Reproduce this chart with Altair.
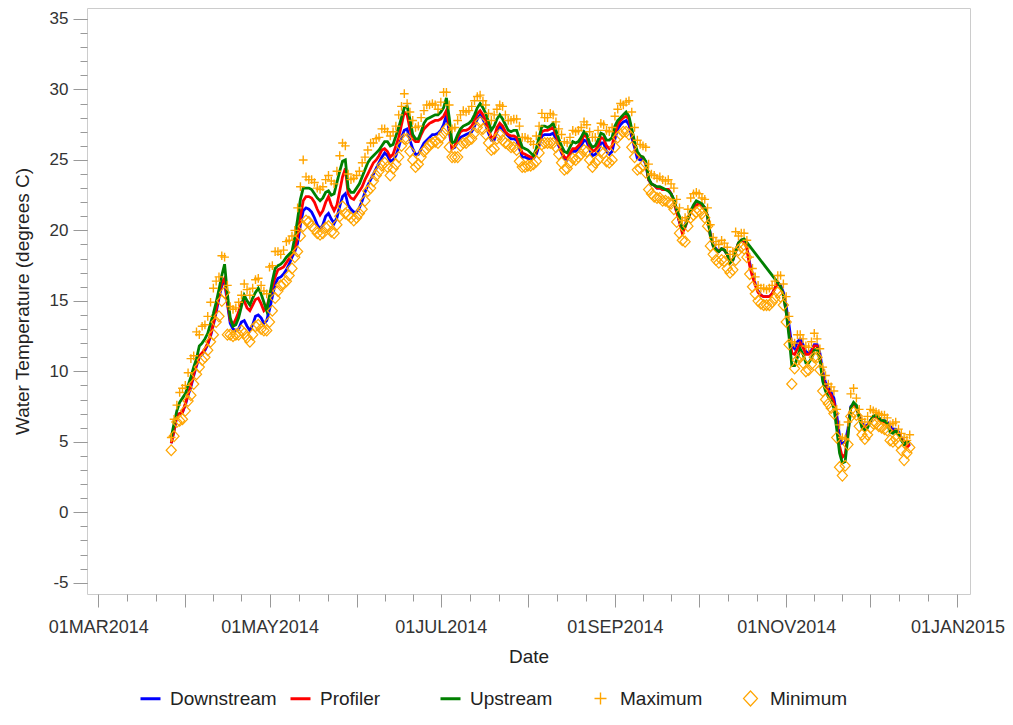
import altair as alt
import pandas as pd

START_DATE = "2014-03-27"

UPSTREAM = [
    5.3, 6.3, 7.2, 7.8, 8.1, 8.4, 9.0, 9.6, 10.3, 10.9,
    11.8, 12.0, 12.3, 12.7, 13.4, 14.1, 14.9, 15.8, 16.8, 17.6,
    15.5, 13.8, 13.2, 13.3, 13.8, 14.6, 15.4, 15.0, 14.7, 15.2,
    15.6, 15.9, 15.5, 14.9, 14.3, 15.3, 16.4, 17.3, 17.5, 17.6,
    17.8, 18.1, 18.3, 18.5, 19.5, 20.8, 22.2, 23.0, 23.0, 23.0,
    22.9, 22.6, 22.3, 22.1, 22.3, 22.7, 22.8, 22.5, 22.6, 23.4,
    24.2, 24.9, 25.0, 23.0, 22.7, 22.7, 23.0, 23.3, 23.8, 24.3,
    24.8, 25.1, 25.3, 25.5, 25.7, 26.0, 26.3, 26.3, 26.0, 26.1,
    26.7, 27.3, 28.0, 28.7, 28.8, 27.9, 26.8, 26.5, 26.5, 27.0,
    27.6, 27.9, 28.0, 28.1, 28.2, 28.2, 28.4, 28.7, 29.4, 28.0,
    26.2, 26.3, 26.8, 27.2, 27.4, 27.5, 27.6, 27.8, 28.2, 28.7,
    29.0, 28.7, 28.3, 27.7, 27.1, 27.4, 27.9, 28.2, 27.9, 27.5,
    27.1, 27.0, 27.1, 27.1, 26.5, 25.9, 25.8, 25.7, 25.5, 25.3,
    25.8, 26.6, 27.4, 27.4, 27.3, 27.4, 27.6, 27.1, 26.5, 26.0,
    25.6, 25.5, 25.9, 26.3, 26.2, 26.3, 26.6, 27.0, 26.8, 26.2,
    25.9, 26.0, 26.4, 26.9, 26.8, 26.4, 26.4, 26.6, 27.4, 27.8,
    28.0, 28.2, 28.4, 28.1, 27.2, 26.3, 25.6, 25.3, 25.2, 24.9,
    23.7, 23.3, 23.2, 23.1, 23.1, 23.0, 22.9, 22.8, 22.6, 22.2,
    21.5, 21.0, 20.1, 20.3, 20.8, 21.4, 21.8, 22.1, 22.0, 21.9,
    21.6, 21.0, 19.6, 18.9, 18.6, 18.5, 18.7, 18.6, 18.3, 17.7,
    17.9, 18.5, 19.1, 19.3, 19.4, None, None, None, None, None,
    None, None, None, None, None, None, 16.3, 16.0, 15.4, 14.2,
    12.5, 10.4, 10.4, 11.0, 11.6, 11.2, 10.6, 10.6, 10.9, 11.5,
    11.6, 10.8, 9.3, 8.6, 8.2, 7.9, 7.4, 5.9, 4.2, 3.5,
    3.6, 5.4, 7.4, 7.8, 7.6, 6.7, 6.0, 5.8, 6.0, 6.5,
    6.8, 6.9, 6.7, 6.5, 6.5, 6.3, 5.7, 5.6, 5.8, 5.5,
    5.1, 4.8, 5.0, 5.0,
]

PROFILER = [
    4.9, 5.8, 6.9, 7.0, 7.1, 7.7, 8.4, 9.0, 9.8, 10.5,
    11.1, 11.3, 11.6, 12.0, 12.6, 13.4, 14.4, 15.4, 16.3, 16.6,
    15.0, 13.6, 13.3, 13.7, 14.2, 14.9, 15.0, 14.5, 14.3, 14.7,
    15.1, 15.2, 14.8, 14.3, 14.5, 15.3, 16.0, 16.7, 17.2, 17.3,
    17.4, 17.7, 18.0, 18.3, 18.7, 19.6, 21.0, 22.1, 22.4, 22.4,
    22.3, 22.0, 21.5, 21.1, 21.4, 22.0, 22.4, 21.8, 21.4, 21.8,
    22.8, 23.8, 24.4, 22.6, 22.3, 22.2, 22.5, 22.8, 23.1, 23.6,
    24.0, 24.4, 24.8, 25.0, 25.3, 25.7, 25.8, 25.6, 25.2, 25.4,
    26.0, 26.6, 27.5, 28.4, 28.2, 27.2, 26.5, 26.3, 26.3, 26.8,
    27.2, 27.4, 27.6, 27.7, 27.8, 27.8, 27.9, 28.1, 28.5, 27.4,
    25.8, 26.0, 26.6, 27.0, 27.1, 27.1, 27.2, 27.4, 27.8, 28.3,
    28.5, 28.2, 27.8, 27.1, 26.6, 26.6, 27.3, 27.6, 27.4, 27.0,
    26.8, 26.7, 26.7, 26.6, 26.0, 25.5, 25.4, 25.3, 25.2, 25.2,
    25.6, 26.3, 27.0, 27.1, 27.1, 27.2, 27.3, 26.8, 26.2, 25.6,
    25.2, 25.1, 25.5, 25.8, 25.8, 26.0, 26.3, 26.8, 26.6, 26.0,
    25.6, 25.7, 26.0, 26.6, 26.5, 26.0, 25.8, 26.0, 26.9, 27.5,
    27.8, 28.0, 28.1, 27.9, 27.0, 26.1, 25.4, 25.2, 25.2, 24.8,
    23.6, 23.3, 23.2, 23.0, 23.0, 22.9, 22.9, 22.9, 22.6, 22.1,
    21.3, 20.6, 19.8, 20.2, 20.8, 21.3, 21.6, 21.8, 21.9, 21.8,
    21.6, 21.0, 19.6, 18.9, 18.6, 18.5, 18.7, 18.6, 18.3, 17.7,
    17.9, 18.5, 19.1, 19.3, 19.3, 18.7, 17.5, 16.7, 16.1, 15.6,
    15.4, 15.3, 15.3, 15.3, 15.5, 15.9, 16.3, 16.0, 15.4, 14.2,
    12.8, 11.3, 11.2, 11.6, 12.0, 11.7, 11.2, 11.2, 11.4, 11.8,
    11.8, 11.0, 9.6, 8.9, 8.6, 8.3, 7.8, 6.3, 4.7, 3.9,
    4.1, 5.6, 7.4, 7.7, 7.5, 6.8, 6.2, 6.0, 6.1, 6.5,
    6.8, 6.8, 6.6, 6.5, 6.4, 6.3, 5.9, 5.7, 5.8, 5.6,
    5.2, 5.0, 4.6, 4.8,
]

DOWNSTREAM = [
    4.9, 5.8, 6.8, 7.0, 7.1, 7.6, 8.3, 8.9, 9.7, 10.4,
    11.0, 11.2, 11.5, 11.9, 12.5, 13.3, 14.2, 15.2, 16.1, 16.4,
    14.8, 13.4, 13.0, 12.9, 13.0, 13.5, 13.6, 13.2, 12.9, 13.3,
    13.9, 14.0, 13.8, 13.4, 13.6, 14.4, 15.3, 16.2, 16.6, 16.7,
    16.9, 17.2, 17.6, 18.1, 18.5, 19.1, 20.4, 21.4, 21.6, 21.5,
    21.3, 20.9, 20.4, 20.1, 20.4, 21.0, 21.2, 20.8, 20.5, 20.9,
    21.7, 22.4, 22.6, 21.8, 21.5, 21.3, 21.3, 21.6, 22.1, 22.7,
    23.2, 23.6, 24.0, 24.4, 24.8, 25.2, 25.5, 25.3, 24.9, 25.0,
    25.3, 25.9, 26.6, 27.1, 27.2, 26.4, 25.8, 25.4, 25.4, 25.8,
    26.2, 26.4, 26.6, 26.8, 26.8, 26.9, 27.1, 27.5, 28.2, 27.0,
    25.8, 25.9, 26.3, 26.6, 26.7, 26.8, 26.9, 27.0, 27.4, 27.9,
    28.2, 27.9, 27.5, 26.9, 26.4, 26.4, 27.0, 27.4, 27.2, 26.9,
    26.7, 26.5, 26.5, 26.4, 25.8, 25.2, 25.2, 25.1, 25.1, 25.1,
    25.4, 26.0, 26.7, 26.8, 26.8, 26.8, 26.9, 26.5, 26.0, 25.5,
    25.1, 25.0, 25.4, 25.6, 25.6, 25.8, 26.0, 26.4, 26.3, 25.7,
    25.3, 25.4, 25.6, 26.2, 26.2, 25.6, 25.4, 25.6, 26.5, 27.2,
    27.5, 27.7, 27.8, 27.5, 26.6, 25.9, 25.1, 25.0, 25.1, 24.7,
    23.6, 23.3, 23.2, 23.0, 23.0, 22.9, 22.9, 22.9, 22.6, 22.1,
    21.3, 20.6, 20.1, 20.4, 20.9, 21.3, 21.6, 21.8, 21.9, 21.8,
    21.6, 21.0, 19.7, 19.0, 18.7, 18.5, 18.7, 18.6, 18.3, 17.8,
    17.9, 18.5, 19.1, 19.3, 19.3, 18.8, 17.7, 16.9, 16.2, 15.7,
    15.4, 15.3, 15.3, 15.3, 15.5, 15.9, 16.3, 16.1, 15.6, 14.6,
    13.3, 11.8, 11.6, 12.1, 12.3, 11.9, 11.4, 11.3, 11.5, 11.9,
    11.9, 11.3, 10.0, 9.2, 8.9, 8.5, 8.1, 6.9, 5.4, 4.9,
    5.0, 5.9, 7.5, 7.7, 7.5, 6.9, 6.3, 6.1, 6.2, 6.5,
    6.8, 6.8, 6.7, 6.5, 6.5, 6.4, 6.1, 5.9, 5.9, 5.7,
    5.3, 5.0, 4.7, 4.9,
]

MAXIMUM = [
    5.3, 6.6, 7.6, 8.5, 8.8, 9.0, 9.9, 10.9, 11.1, 12.8,
    12.6, 13.2, 13.3, 13.9, 14.9, 15.9, 16.4, 16.7, 18.2, 18.1,
    16.1, 14.6, 14.4, 14.5, 14.9, 15.4, 16.2, 15.8, 15.4, 15.9,
    16.5, 16.6, 16.1, 15.7, 15.5, 17.4, 17.5, 18.5, 18.5, 18.3,
    18.6, 19.2, 19.3, 19.6, 20.0, 21.6, 23.1, 25.0, 23.8, 23.6,
    23.6, 23.4, 23.0, 22.9, 23.1, 23.6, 23.9, 23.5, 23.3, 24.2,
    25.3, 26.2, 26.0, 24.0, 23.6, 23.7, 23.9, 24.2, 24.8, 25.2,
    25.7, 26.2, 26.2, 26.5, 26.6, 27.2, 27.2, 27.0, 26.7, 27.0,
    27.4, 28.2, 28.8, 29.7, 29.0, 28.4, 27.8, 27.3, 27.4, 28.0,
    28.5, 28.9, 28.9, 29.0, 28.9, 28.6, 29.1, 29.8, 29.8, 28.9,
    27.2, 27.3, 27.8, 28.2, 28.5, 28.4, 28.5, 28.8, 29.2, 29.5,
    29.6, 29.2, 28.9, 28.3, 27.8, 28.2, 28.6, 28.9, 28.8, 28.2,
    27.8, 27.8, 27.9, 27.9, 27.4, 26.6, 26.6, 26.5, 26.3, 26.1,
    26.7, 27.4, 28.3, 28.0, 28.0, 28.3, 28.2, 27.7, 27.2, 26.8,
    26.3, 26.2, 26.6, 27.1, 27.0, 27.1, 27.3, 27.7, 27.5, 27.0,
    26.6, 26.6, 27.1, 27.6, 27.5, 27.1, 27.0, 27.3, 28.1, 28.6,
    29.0, 28.9, 29.1, 29.2, 28.4, 27.3, 26.4, 26.1, 26.0, 25.9,
    24.7, 24.0, 23.9, 23.7, 23.8, 23.6, 23.5, 23.6, 23.3, 23.0,
    22.2, 21.6, 20.7, 20.9, 21.5, 22.3, 22.6, 22.7, 22.6, 22.3,
    22.2, 21.6, 20.4, 19.5, 19.2, 19.0, 19.3, 19.1, 18.8, 18.3,
    18.5, 19.9, 19.6, 19.8, 19.8, 19.3, 18.1, 17.3, 16.7, 16.1,
    15.9, 15.9, 15.8, 15.9, 16.1, 16.4, 16.8, 16.8, 16.2, 15.3,
    13.9, 12.1, 12.0, 12.6, 12.6, 12.3, 11.8, 11.7, 12.1, 12.7,
    12.3, 11.6, 10.3, 9.7, 9.1, 8.9, 8.6, 7.3, 6.2, 5.3,
    5.2, 6.4, 8.4, 8.8, 8.1, 7.3, 6.6, 6.4, 6.8, 7.3,
    7.2, 7.1, 7.0, 6.9, 6.9, 6.7, 6.2, 6.3, 6.4, 5.9,
    5.6, 5.3, 5.1, 5.5,
]

MINIMUM = [
    4.4, 5.4, 6.4, 6.5, 6.6, 7.2, 7.9, 8.3, 9.1, 9.8,
    10.3, 10.8, 11.0, 11.5, 12.1, 12.6, 13.5, 13.9, 15.0, 15.6,
    12.6, 12.6, 12.5, 12.6, 12.6, 12.9, 12.7, 12.4, 12.1, 12.6,
    13.2, 13.3, 13.0, 12.9, 12.9, 13.5, 14.3, 15.2, 15.7, 16.1,
    16.2, 16.4, 16.8, 17.3, 18.1, 18.5, 19.6, 20.3, 20.7, 20.6,
    20.3, 20.1, 19.8, 19.7, 19.8, 20.2, 20.3, 19.9, 19.8, 20.4,
    21.0, 21.7, 21.2, 21.1, 20.9, 20.7, 20.9, 21.2, 21.5, 22.1,
    22.8, 23.0, 23.5, 23.9, 24.2, 24.6, 24.8, 24.5, 23.9, 24.4,
    24.7, 25.2, 26.0, 26.5, 26.5, 25.6, 25.0, 24.5, 24.7, 25.2,
    25.6, 25.8, 26.1, 26.2, 26.3, 26.2, 26.6, 26.9, 27.2, 25.9,
    25.2, 25.2, 25.2, 26.0, 26.2, 26.2, 26.4, 26.5, 26.9, 27.3,
    27.7, 27.2, 26.8, 26.2, 25.7, 25.8, 26.5, 26.8, 26.4, 26.2,
    26.1, 25.9, 25.9, 25.7, 24.9, 24.5, 24.5, 24.6, 24.6, 24.7,
    24.9, 25.5, 26.1, 26.2, 26.2, 26.2, 26.2, 25.9, 25.4, 24.8,
    24.3, 24.4, 24.8, 25.1, 25.0, 25.2, 25.4, 25.7, 25.6, 25.0,
    24.5, 24.8, 25.0, 25.6, 25.5, 24.9, 24.8, 25.0, 25.9, 26.6,
    26.8, 27.0, 27.0, 26.8, 25.9, 25.2, 24.3, 24.4, 24.6, 24.1,
    22.9, 22.6, 22.4, 22.3, 22.3, 22.1, 22.1, 22.0, 21.9, 21.5,
    20.6, 19.8, 19.3, 19.2, 20.3, 20.9, 21.1, 21.3, 21.4, 21.2,
    20.9, 20.3, 18.9, 18.3, 17.9, 17.7, 17.9, 17.8, 17.3, 17.0,
    17.2, 17.9, 18.6, 18.8, 18.7, 18.1, 16.9, 16.0, 15.5, 15.0,
    14.8, 14.7, 14.7, 14.7, 14.9, 15.2, 15.6, 15.3, 14.7, 13.5,
    11.9, 9.1, 10.2, 10.8, 11.0, 10.6, 10.0, 10.1, 10.5, 11.0,
    11.0, 10.1, 8.6, 8.0, 7.7, 7.4, 7.0, 5.3, 3.2, 2.6,
    3.3, 4.8, 6.8, 7.1, 6.9, 6.1, 5.5, 5.2, 5.5, 6.0,
    6.3, 6.3, 6.1, 6.0, 5.9, 5.8, 5.1, 5.0, 5.2, 4.9,
    4.4, 3.7, 4.2, 4.6,
]

SERIES = ["Downstream", "Profiler", "Upstream", "Maximum", "Minimum"]
COLORS = ["#0000FF", "#FF0000", "#008000", "#FFA500", "#FFA500"]
PLUS = "M-0.6,0L0.6,0M0,-0.6L0,0.6"
DIAMOND = "M0,-0.75L0.7,0L0,0.75L-0.7,0Z"
SHAPES = ["stroke", "stroke", "stroke", PLUS, DIAMOND]
WIDTHS = [3, 3, 3, 1.4, 1.2]
Y_MAJOR = [-5, 0, 5, 10, 15, 20, 25, 30, 35]

FONT = "Liberation Sans"

lists = {"Downstream": DOWNSTREAM, "Profiler": PROFILER, "Upstream": UPSTREAM,
         "Maximum": MAXIMUM, "Minimum": MINIMUM}
n = len(UPSTREAM)
for k, v in lists.items():
    assert len(v) == n, (k, len(v), n)
dates = pd.date_range(START_DATE, periods=n, freq="D").strftime("%Y-%m-%d")

rows = []
for name, vals in lists.items():
    for d, v in zip(dates, vals):
        if v is not None:
            rows.append({"date": d, "value": v, "series": name})
df = pd.DataFrame(rows)


def dt(ts):
    return alt.DateTime(year=int(ts.year), month=int(ts.month), date=int(ts.day),
                        hours=int(ts.hour), minutes=int(ts.minute), utc=True)


month_starts = pd.date_range("2014-03-01", "2015-01-01", freq="MS")
x_major_vals = [dt(t) for t in month_starts]
x_minor_vals = []
for t in month_starts[:-1]:
    L = t.days_in_month
    for k in (1, 2):
        x_minor_vals.append(dt(t + pd.Timedelta(hours=round(24 * L * k / 3))))
y_minor_vals = list(range(-5, 36))

xscale = alt.Scale(type="utc", nice=False,
                   domain=[alt.DateTime(year=2014, month=2, date=25, utc=True),
                           alt.DateTime(year=2015, month=1, date=5, hours=11, utc=True)])
yscale = alt.Scale(domain=[-5.8, 35.78], nice=False, zero=False)
cscale = alt.Scale(domain=SERIES, range=COLORS)

x_major = alt.Axis(values=x_major_vals, orient="bottom", tickSize=13, domain=False, grid=False,
                   labelExpr="utcmonth(datum.value) % 2 == 0 ? upper(utcFormat(datum.value, '%d%b%Y')) : ''",
                   labelBaseline="alphabetic", labelPadding=25, labelOverlap=False, labelFlush=False,
                   labelFontSize=18,
                   title="Date", titleBaseline="alphabetic", titleY=68)
x_minor = alt.Axis(values=x_minor_vals, orient="bottom", tickSize=7, domain=False, grid=False,
                   labels=False, title=None)
y_major = alt.Axis(values=Y_MAJOR, orient="left", tickSize=14, domain=False, grid=False,
                   labelPadding=5, labelExpr="toString(datum.value)", labelFontSize=17,
                   title="Water Temperature (degrees C)",
                   titleBaseline="alphabetic", titleX=-59)
y_minor = alt.Axis(values=y_minor_vals, orient="left", tickSize=7, domain=False, grid=False,
                   labels=False, title=None)

leg = alt.Legend(orient="none", legendX=52, legendY=679, direction="horizontal", columns=5,
                 gridAlign="all", columnPadding=7, labelOffset=8, symbolSize=400, title=None,
                 padding=0, labelFontSize=19, labelFont=FONT, labelColor="#222222")

layers = []
for i, s in enumerate(["Downstream", "Profiler", "Upstream"]):
    layers.append(
        alt.Chart(df[df.series == s]).mark_line(
            strokeWidth=2.8, interpolate="linear", color=COLORS[SERIES.index(s)]).encode(
            x=alt.X("date:T", scale=xscale, axis=x_major if i == 0 else None),
            y=alt.Y("value:Q", scale=yscale, axis=y_major if i == 0 else None),
        )
    )

pts = alt.Chart(df[df.series.isin(["Maximum", "Minimum"])]).mark_point(
    filled=False, size=210, opacity=1).encode(
    x=alt.X("date:T", scale=xscale, axis=x_minor),
    y=alt.Y("value:Q", scale=yscale, axis=y_minor),
    color=alt.Color("series:N", scale=cscale, legend=leg),
    shape=alt.Shape("series:N", scale=alt.Scale(domain=SERIES, range=SHAPES), legend=leg),
    strokeWidth=alt.StrokeWidth("series:N", scale=alt.Scale(type="ordinal", domain=SERIES, range=WIDTHS),
                                legend=leg),
)
layers.append(pts)

chart = alt.layer(*layers).resolve_axis(x="independent", y="independent").properties(
    width=883, height=586,
    padding={"left": 79, "top": 0, "right": 35, "bottom": 118},
    autosize=alt.AutoSizeParams(type="none"),
).configure_view(stroke="#cccccc", strokeWidth=1).configure_axis(
    labelFont=FONT, titleFont=FONT, titleFontSize=19,
    titleFontWeight="normal", tickColor="#999999", labelColor="#333333",
    titleColor="#222222", tickWidth=1,
)

chart.save("out.html", embed_options={"renderer": "svg", "actions": False})
